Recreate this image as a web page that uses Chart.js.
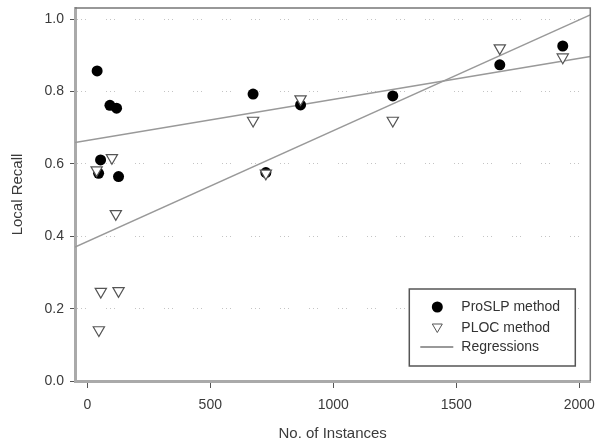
<!DOCTYPE html>
<html>
<head>
<meta charset="utf-8">
<script src="https://cdn.jsdelivr.net/npm/chart.js@4/dist/chart.umd.min.js"></script>
<style>
  html, body { margin: 0; padding: 0; background: #fff; }
  #wrap { width: 598px; height: 446px; }
</style>
</head>
<body>
<div id="wrap"><canvas id="recallChart" width="598" height="446"></canvas></div>
<script>
// values
const proslpX = [40, 54, 46, 92, 119, 127, 674, 726, 867, 1242, 1677, 1933];
const proslpY = [0.857, 0.611, 0.574, 0.762, 0.754, 0.565, 0.793, 0.576, 0.763, 0.788, 0.874, 0.926];
const plocX = [38, 100, 116, 674, 726, 55, 127, 47, 867, 1242, 1677, 1933];
const plocY = [0.583, 0.617, 0.462, 0.720, 0.574, 0.247, 0.249, 0.141, 0.779, 0.720, 0.920, 0.895];
// regression line end points
const regX = [-50, 2045];
const regProslpY = [0.659, 0.897];
const regPlocY = [0.370, 1.012];
const xTicks = [0, 500, 1000, 1500, 2000];
const yTicks = [0.0, 0.2, 0.4, 0.6, 0.8, 1.0];
const legendLabels = ["ProSLP method", "PLOC method", "Regressions"];

const toPoints = (xs, ys) => xs.map((x, i) => ({ x: x, y: ys[i] }));

const textColor = "#3a3a3a";
const fontFamily = "'Liberation Sans', Arial, sans-serif";

// top/right frame lines and the legend box
const framePlugin = {
  id: "frame",
  afterDraw(chart) {
    const { ctx, chartArea: a } = chart;
    ctx.save();
    ctx.strokeStyle = "#777";
    ctx.lineWidth = 1.5;
    ctx.beginPath();
    ctx.moveTo(a.left, a.top);
    ctx.lineTo(a.right, a.top);
    ctx.lineTo(a.right, a.bottom);
    ctx.stroke();

    // legend
    const bx = a.right - 181, by = a.bottom - 92, bw = 166, bh = 77;
    ctx.fillStyle = "#fff";
    ctx.fillRect(bx, by, bw, bh);
    ctx.strokeStyle = "#555";
    ctx.lineWidth = 1.5;
    ctx.strokeRect(bx, by, bw, bh);

    ctx.font = "14px " + fontFamily;
    ctx.fillStyle = "#333";
    ctx.textBaseline = "middle";
    ctx.textAlign = "left";
    const tx = bx + 52;
    const rows = [by + 18, by + 39, by + 58];
    legendLabels.forEach((label, i) => ctx.fillText(label, tx, rows[i]));

    ctx.fillStyle = "#000";
    ctx.beginPath();
    ctx.arc(bx + 28, rows[0], 5.5, 0, Math.PI * 2);
    ctx.fill();

    ctx.strokeStyle = "#555";
    ctx.lineWidth = 1;
    ctx.beginPath();
    ctx.moveTo(bx + 23, rows[1] - 4);
    ctx.lineTo(bx + 33, rows[1] - 4);
    ctx.lineTo(bx + 28, rows[1] + 4.5);
    ctx.closePath();
    ctx.stroke();

    ctx.strokeStyle = "#999";
    ctx.lineWidth = 2;
    ctx.beginPath();
    ctx.moveTo(bx + 11, rows[2]);
    ctx.lineTo(bx + 44, rows[2]);
    ctx.stroke();
    ctx.restore();
  }
};

new Chart(document.getElementById("recallChart"), {
  type: "scatter",
  data: {
    datasets: [
      {
        label: legendLabels[1],
        data: toPoints(plocX, plocY),
        pointStyle: "triangle",
        rotation: 180,
        radius: 6.5,
        backgroundColor: "#fff",
        borderColor: "#555",
        borderWidth: 1.2,
        order: 1
      },
      {
        label: legendLabels[0],
        data: toPoints(proslpX, proslpY),
        pointStyle: "circle",
        radius: 5.5,
        backgroundColor: "#000",
        borderColor: "#000",
        borderWidth: 0,
        order: 2
      },
      {
        type: "line",
        label: "ProSLP regression",
        data: toPoints(regX, regProslpY),
        borderColor: "#999",
        borderWidth: 1.5,
        pointRadius: 0,
        fill: false,
        order: 3
      },
      {
        type: "line",
        label: "PLOC regression",
        data: toPoints(regX, regPlocY),
        borderColor: "#999",
        borderWidth: 1.5,
        pointRadius: 0,
        fill: false,
        order: 3
      }
    ]
  },
  options: {
    responsive: false,
    animation: false,
    events: [],
    layout: { padding: { top: 8, right: 5, left: 0, bottom: 0 } },
    plugins: {
      legend: { display: false },
      tooltip: { enabled: false }
    },
    scales: {
      x: {
        type: "linear",
        min: -50,
        max: 2045,
        afterFit: (scale) => {
          scale.height = 65;
          scale.paddingLeft = 0;
          scale.paddingRight = 0;
        },
        afterBuildTicks: (scale) => { scale.ticks = xTicks.map((v) => ({ value: v })); },
        ticks: {
          includeBounds: false,
          color: textColor,
          font: { family: fontFamily, size: 14 },
          padding: 9,
          maxRotation: 0,
          callback: (v) => String(v)
        },
        grid: {
          drawOnChartArea: false,
          drawTicks: true,
          tickLength: 7,
          tickColor: "#555",
          tickWidth: 1
        },
        border: { display: true, color: "#aaa", width: 3 },
        title: {
          display: true,
          text: "No. of Instances",
          color: textColor,
          font: { family: fontFamily, size: 15 },
          padding: { top: 0, bottom: 3 }
        }
      },
      y: {
        type: "linear",
        min: 0,
        max: 1.031,
        afterFit: (scale) => {
          scale.width = 75;
          scale.paddingTop = 0;
          scale.paddingBottom = 0;
        },
        afterBuildTicks: (scale) => { scale.ticks = yTicks.map((v) => ({ value: v })); },
        ticks: {
          includeBounds: false,
          color: textColor,
          font: { family: fontFamily, size: 14 },
          padding: 6,
          callback: (v) => Number(v).toFixed(1)
        },
        grid: {
          color: "#c4c4c4",
          lineWidth: 1,
          drawTicks: true,
          tickLength: 5,
          tickColor: "#555",
          tickWidth: 1,
          tickBorderDash: []
        },
        border: { display: true, color: "#aaa", width: 3, dash: [1, 3, 1, 3, 1, 20] },
        title: {
          display: true,
          text: "Local Recall",
          color: textColor,
          font: { family: fontFamily, size: 15 },
          padding: { top: 9, bottom: 0 }
        }
      }
    }
  },
  plugins: [framePlugin]
});
</script>
</body>
</html>
